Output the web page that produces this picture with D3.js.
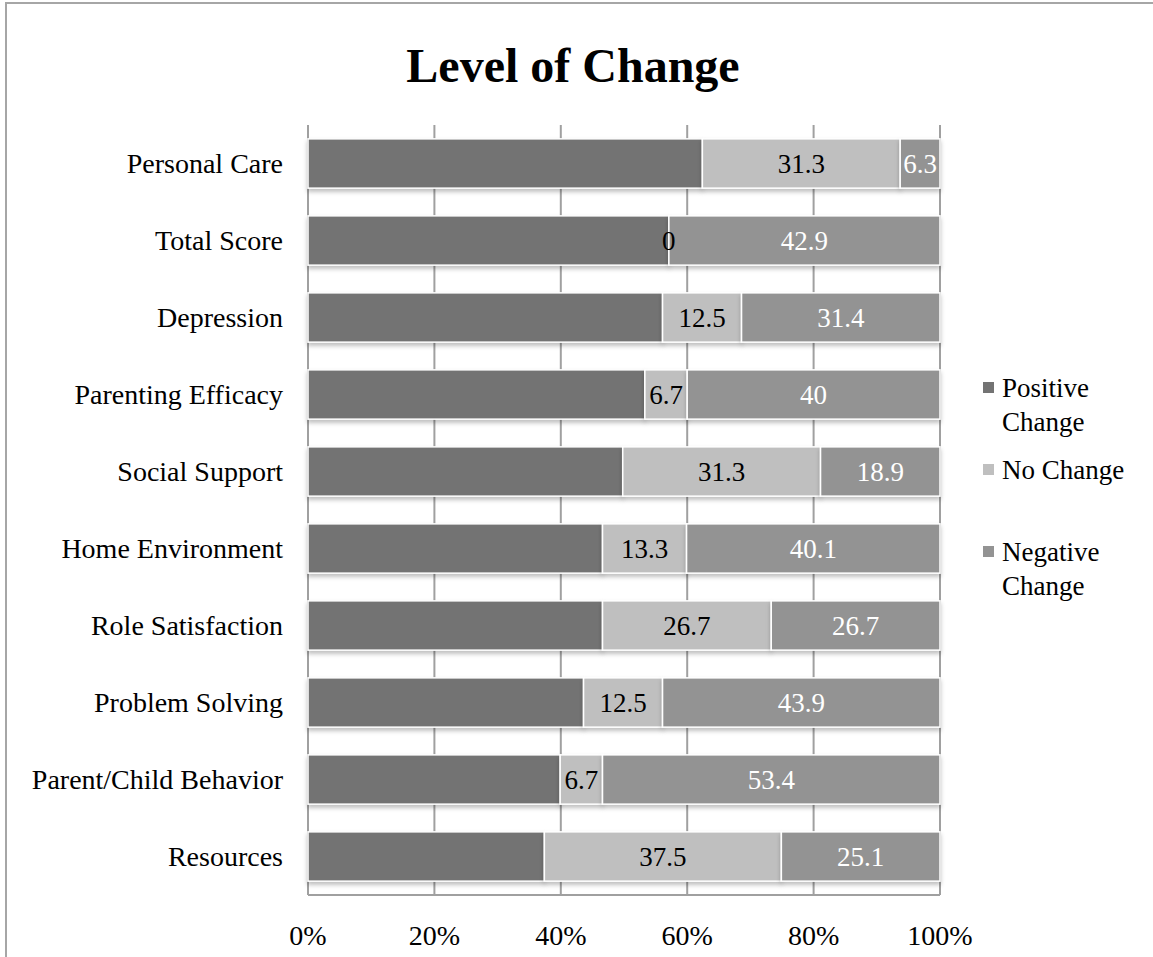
<!DOCTYPE html>
<html><head><meta charset="utf-8">
<script src="https://cdn.jsdelivr.net/npm/d3@7"></script>
<style>body{margin:0;background:#fff}svg{display:block}</style>
</head><body>
<svg id="c" width="1153" height="957"></svg>
<script>
const categories = ["Personal Care","Total Score","Depression","Parenting Efficacy","Social Support","Home Environment","Role Satisfaction","Problem Solving","Parent/Child Behavior","Resources"];
const positiveChange = [62.4,57.1,56.1,53.3,49.8,46.6,46.6,43.6,39.9,37.4];
const noChange = [31.3,0,12.5,6.7,31.3,13.3,26.7,12.5,6.7,37.5];
const negativeChange = [6.3,42.9,31.4,40,18.9,40.1,26.7,43.9,53.4,25.1];
const seriesNames = ["Positive Change","No Change","Negative Change"];
const tickValues = [0,20,40,60,80,100];

const FONT = "'Liberation Serif', serif";
const FS = 28;
const colors = ["#737373","#bfbfbf","#939393"];
const labelColors = [null,"#000","#fff"];

const svg = d3.select("#c");
svg.append("path").attr("d","M6,957 V3 H1153").attr("fill","none").attr("stroke","#a6a6a6").attr("stroke-width",2);

const defs = svg.append("defs");
const f = defs.append("filter").attr("id","sh").attr("x","-5%").attr("y","-20%").attr("width","110%").attr("height","160%");
f.append("feDropShadow").attr("dx",0).attr("dy",3).attr("stdDeviation",2).attr("flood-color","#000").attr("flood-opacity",0.25);

const x = d3.scaleLinear().domain([0,100]).range([308,940]);
const y = d3.scaleBand().domain(categories).range([125,895]).paddingInner(0.36).paddingOuter(0.18);

const g = svg.append("g");
g.selectAll("line.grid").data(tickValues).join("line")
 .attr("x1",d=>x(d)).attr("x2",d=>x(d)).attr("y1",125).attr("y2",895)
 .attr("stroke","#a0a0a0").attr("stroke-width",2);
g.append("line").attr("x1",308).attr("x2",940).attr("y1",895).attr("y2",895).attr("stroke","#a0a0a0").attr("stroke-width",2);

const data = categories.map((c,i)=>({cat:c,vals:[positiveChange[i],noChange[i],negativeChange[i]]}));
const stack = d3.stack().keys([0,1,2]).value((d,k)=>d.vals[k]);
const layers = stack(data);

const lay = svg.append("g");
layers.forEach((L,k)=>{
  lay.append("g").attr("filter","url(#sh)").selectAll("rect").data(L).join("rect")
   .attr("x",d=>x(d[0])).attr("width",d=>x(d[1])-x(d[0]))
   .attr("y",d=>y(d.data.cat)).attr("height",y.bandwidth())
   .attr("fill",colors[k]).attr("stroke","#fff").attr("stroke-width",1.5);
});
layers.forEach((L,k)=>{
  if(k===0) return;
  lay.append("g").selectAll("text").data(L).join("text")
   .attr("x",d=>(x(d[0])+x(d[1]))/2).attr("y",d=>y(d.data.cat)+y.bandwidth()/2)
   .attr("dy","0.35em").attr("text-anchor","middle")
   .attr("font-family",FONT).attr("font-size",FS-1).attr("fill",labelColors[k])
   .text(d=>d.data.vals[k]);
});

svg.append("g").selectAll("text").data(categories).join("text")
 .attr("x",283).attr("y",d=>y(d)+y.bandwidth()/2).attr("dy","0.35em")
 .attr("text-anchor","end").attr("font-family",FONT).attr("font-size",FS).attr("fill","#000")
 .text(d=>d);

svg.append("g").selectAll("text").data(tickValues).join("text")
 .attr("x",d=>x(d)).attr("y",935).attr("dy","0.35em").attr("text-anchor","middle")
 .attr("font-family",FONT).attr("font-size",FS).attr("fill","#000")
 .text(d=>d+"%");

svg.append("text").attr("x",573).attr("y",65).attr("dy","0.35em").attr("text-anchor","middle")
 .attr("font-family",FONT).attr("font-weight","bold").attr("font-size",48).text("Level of Change");

const leg = [{t:["Positive","Change"],y:388},{t:["No Change"],y:470},{t:["Negative","Change"],y:552}];
const lg = svg.append("g");
leg.forEach((l,i)=>{
  lg.append("rect").attr("x",983).attr("y",l.y-6).attr("width",11).attr("height",11).attr("fill",colors[i]);
  l.t.forEach((t,j)=>{
    lg.append("text").attr("x",1002).attr("y",l.y+j*34).attr("dy","0.35em")
     .attr("font-family",FONT).attr("font-size",FS-1).text(t);
  });
});
</script>
</body></html>
